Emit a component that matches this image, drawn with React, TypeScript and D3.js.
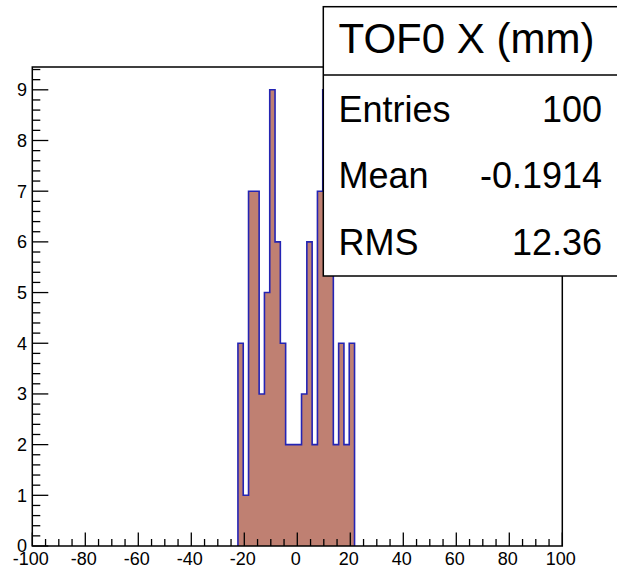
import React from "react";
import * as d3 from "d3";

// ---- data ----
const binContents = [4, 1, 7, 7, 3, 5, 9, 6, 4, 2, 2, 2, 3, 6, 2, 7, 9, 9, 2, 4, 2, 4];
const binLow = -22.4;
const binWidth = 2;
const xTickLabels = [-100, -80, -60, -40, -20, 0, 20, 40, 60, 80, 100];
const yTickLabels = [0, 1, 2, 3, 4, 5, 6, 7, 8, 9];
const statsTitle = "TOF0 X (mm)";
const statsNames = ["Entries", "Mean", "RMS"];
const statsValues = ["100", "-0.1914", "12.36"];

const W = 617;
const H = 573;
const FONT = "'Liberation Sans', Arial, Helvetica, sans-serif";

export default function App() {
  const left = 32.3, right = 562.3, top = 67, bottom = 546;
  const x = d3.scaleLinear().domain([-100, 100]).range([left, right]);
  const yMax = d3.max(binContents)! * 1.05;
  const y = d3.scaleLinear().domain([0, yMax]).range([bottom, top]);

  // step outline
  const pts: [number, number][] = [];
  pts.push([x(binLow), y(0)]);
  binContents.forEach((v, i) => {
    const x0 = x(binLow + i * binWidth);
    const x1 = x(binLow + (i + 1) * binWidth);
    pts.push([x0, y(v)]);
    pts.push([x1, y(v)]);
  });
  pts.push([x(binLow + binContents.length * binWidth), y(0)]);
  const line = d3.line();
  const outline = line(pts)!;
  const fillPath = outline + "Z";

  // ticks
  const xMinor = d3.range(-100, 100.001, 5);
  const yMinor = d3.range(0, yMax + 1e-6, 0.2);

  const boxX = 323.3, boxY = 6.7, boxBottom = 276, divY = 75;
  const rowBase = [121.5, 188.3, 255];

  return (
    <svg width={W} height={H} style={{ position: "absolute", left: 0, top: 0, background: "#fff" }}>
      <rect x={0} y={0} width={W} height={H} fill="#fff" />
      {/* histogram */}
      <path d={fillPath} fill="#bf8072" stroke="none" />
      <path d={outline} fill="none" stroke="#2424b4" strokeWidth={1.6} />

      {/* frame */}
      <rect x={left} y={top} width={right - left} height={bottom - top} fill="none" stroke="#000" strokeWidth={1.5} />

      {/* x ticks */}
      {xMinor.map((t, i) => {
        const major = Math.abs(t % 20) < 1e-6;
        return (
          <line key={"xt" + i} x1={x(t)} x2={x(t)} y1={bottom} y2={bottom - (major ? 13.5 : 7)} stroke="#000" strokeWidth={1.3} />
        );
      })}
      {xTickLabels.map((t) => (
        <text key={"xl" + t} x={x(t) - 1.5} y={565} textAnchor="middle" fontFamily={FONT} fontSize={18} fill="#000">
          {t}
        </text>
      ))}

      {/* y ticks */}
      {yMinor.map((t, i) => {
        const major = Math.abs(t - Math.round(t)) < 1e-6;
        return (
          <line key={"yt" + i} x1={left} x2={left + (major ? 16 : 8)} y1={y(t)} y2={y(t)} stroke="#000" strokeWidth={1.3} />
        );
      })}
      {yTickLabels.map((t) => (
        <text key={"yl" + t} x={27} y={y(t)} dy="0.36em" textAnchor="end" fontFamily={FONT} fontSize={18} fill="#000">
          {t}
        </text>
      ))}

      {/* stats box */}
      <rect x={boxX} y={boxY} width={W - boxX + 10} height={boxBottom - boxY} fill="#fff" stroke="#000" strokeWidth={1.5} />
      <line x1={boxX} x2={W + 5} y1={divY} y2={divY} stroke="#000" strokeWidth={1.3} />
      <text x={338.5} y={52.7} fontFamily={FONT} fontSize={42} fill="#000">
        {statsTitle}
      </text>
      {statsNames.map((n, i) => (
        <g key={n}>
          <text x={338.5} y={rowBase[i]} fontFamily={FONT} fontSize={36} fill="#000">
            {n}
          </text>
          <text x={602} y={rowBase[i]} textAnchor="end" fontFamily={FONT} fontSize={36} fill="#000">
            {statsValues[i]}
          </text>
        </g>
      ))}
    </svg>
  );
}
